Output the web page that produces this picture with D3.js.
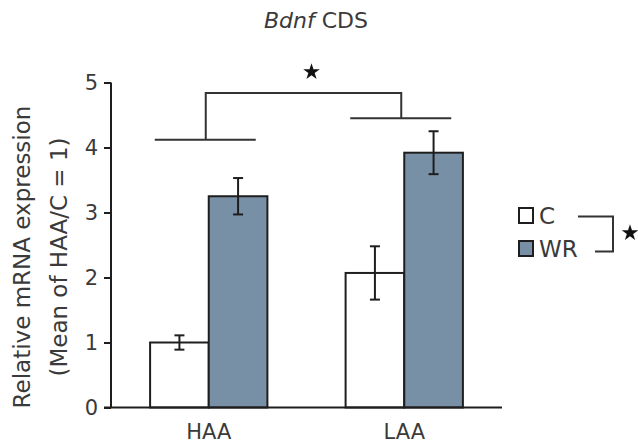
<!doctype html>
<html>
<head>
<meta charset="utf-8">
<script src="https://cdnjs.cloudflare.com/ajax/libs/d3/7.8.5/d3.min.js"></script>
<style>
  body { margin: 0; background: white; }
  svg { background: white; font-family: "DejaVu Sans", sans-serif; }
  text { fill: #3a3a3a; }
</style>
</head>
<body>
<svg width="638" height="445"></svg>
<script>
// data
const groups = ["HAA", "LAA"];
const series = ["C", "WR"];
const means = [[1.00, 3.25], [2.07, 3.92]];
const errs  = [[0.11, 0.28], [0.41, 0.33]];
const yTicks = [0, 1, 2, 3, 4, 5];
const groupLines = [4.12, 4.45];  // heights of the group bars in the bracket
const topLine = 4.84;
const colors = {C: "#ffffff", WR: "#7890a5"};

const svg = d3.select("svg");
const ink = "#1e1e1e";

const y = d3.scaleLinear().domain([0, 5]).range([407.5, 82.5]);
const x0 = d3.scaleBand().domain(groups).range([111, 502]).paddingInner(0.4).paddingOuter(0.2);
const x1 = d3.scaleBand().domain(series).range([0, x0.bandwidth()]);

// title
const title = svg.append("text").attr("x", 316).attr("y", 28)
  .attr("text-anchor", "middle").style("font-size", "22px");
title.append("tspan").style("font-style", "italic").text("Bdnf");
title.append("tspan").text(" CDS");

// bars
const rows = [];
groups.forEach((g, i) => series.forEach((s, j) => rows.push({g, s, v: means[i][j], e: errs[i][j]})));

svg.append("g").selectAll("rect").data(rows).join("rect")
  .attr("x", d => x0(d.g) + x1(d.s))
  .attr("y", d => y(d.v))
  .attr("width", x1.bandwidth())
  .attr("height", d => y(0) - y(d.v))
  .attr("fill", d => colors[d.s])
  .attr("stroke", ink).attr("stroke-width", 2);

// error bars
const eb = svg.append("g").attr("stroke", ink).attr("stroke-width", 2);
rows.forEach(d => {
  const cx = x0(d.g) + x1(d.s) + x1.bandwidth() / 2;
  eb.append("line").attr("x1", cx).attr("x2", cx).attr("y1", y(d.v - d.e)).attr("y2", y(d.v + d.e));
  [d.v - d.e, d.v + d.e].forEach(v =>
    eb.append("line").attr("x1", cx - 5).attr("x2", cx + 5).attr("y1", y(v)).attr("y2", y(v)));
});

// y axis
const yAxis = svg.append("g").attr("transform", "translate(111,0)")
  .call(d3.axisLeft(y).tickValues(yTicks).tickFormat(d3.format("d")).tickSize(7).tickPadding(6));
yAxis.select(".domain").attr("stroke", ink).attr("stroke-width", 2).attr("d", `M0,${y(5)}V${y(0)}`);
yAxis.selectAll(".tick line").attr("stroke", ink).attr("stroke-width", 2);
yAxis.attr("font-family", null).attr("font-size", null);
yAxis.selectAll("text").style("font-size", "21px").attr("fill", "#3a3a3a");

// x axis baseline
svg.append("line").attr("x1", 104).attr("x2", 502).attr("y1", y(0)).attr("y2", y(0))
  .attr("stroke", ink).attr("stroke-width", 2);
svg.append("g").selectAll("text").data(groups).join("text")
  .attr("x", d => x0(d) + x0.bandwidth() / 2).attr("y", 439)
  .attr("text-anchor", "middle").style("font-size", "21px").text(d => d);

// y label
const yl = svg.append("text").attr("transform", "translate(0,257) rotate(-90)")
  .attr("text-anchor", "middle").style("font-size", "23px");
yl.append("tspan").attr("x", 0).attr("y", 30).text("Relative mRNA expression");
yl.append("tspan").attr("x", 0).attr("y", 67).text("(Mean of HAA/C = 1)");

// group comparison bracket
const br = svg.append("g").attr("stroke", "#333").attr("stroke-width", 2).attr("fill", "none");
const mid = groups.map(g => x0(g) + x0.bandwidth() / 2 - 3);
groups.forEach((g, i) => {
  br.append("line").attr("x1", mid[i] - 51).attr("x2", mid[i] + 50)
    .attr("y1", y(groupLines[i])).attr("y2", y(groupLines[i]));
});
br.append("path").attr("d",
  `M${mid[0]},${y(groupLines[0])}V${y(topLine)}H${mid[1]}V${y(groupLines[1])}`);

const star = d3.symbol(d3.symbolStar).size(85);
svg.append("path").attr("d", star()).attr("fill", "#111")
  .attr("transform", `translate(${(mid[0] + mid[1]) / 2 + 8},${y(topLine) - 21})`);

// legend
const lg = svg.append("g").attr("transform", "translate(519,208)");
series.forEach((s, i) => {
  lg.append("rect").attr("x", 0).attr("y", i * 33).attr("width", 14).attr("height", 15)
    .attr("fill", colors[s]).attr("stroke", ink).attr("stroke-width", 2);
  lg.append("text").attr("x", 20).attr("y", i * 33 + 16).style("font-size", "23px").text(s);
});
svg.append("path").attr("d", "M578,216.5H613V251.5H595")
  .attr("fill", "none").attr("stroke", "#333").attr("stroke-width", 2);
svg.append("path").attr("d", star()).attr("fill", "#111").attr("transform", "translate(630,233)");
</script>
</body>
</html>
